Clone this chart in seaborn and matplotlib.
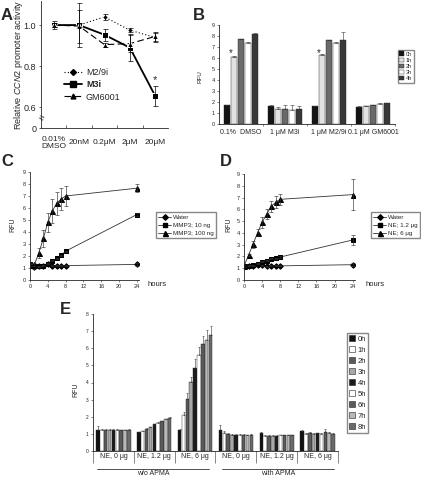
import numpy as np
import pandas as pd
import matplotlib
matplotlib.use("Agg")
import matplotlib.pyplot as plt
import matplotlib.transforms as mtransforms
from matplotlib.lines import Line2D
from matplotlib.patches import Patch
from matplotlib.container import BarContainer
import seaborn as sns

# ---------- data ----------
# A : promoter activity
dose_labels = ["0.01%\nDMSO", "20nM", "0.2\u03bcM", "2\u03bcM", "20\u03bcM"]
m29i = [1.0, 1.0, 1.04, 0.975, 0.94]
m29i_err = [0.01, 0.01, 0.015, 0.01, 0.02]
m3i = [1.0, 1.0, 0.953, 0.89, 0.655]
m3i_err = [0.02, 0.105, 0.03, 0.065, 0.05]
gm6001 = [1.0, 0.995, 0.905, 0.91, 0.945]
gm6001_err = [0.01, 0.08, 0.01, 0.04, 0.02]

# B : RFU per inhibitor
b_groups = ["0.1%  DMSO", "1 \u03bcM M3i", "1 \u03bcM M2/9i", "0.1 \u03bcM GM6001"]
b_times = ["0h", "1h", "2h", "3h", "4h"]
b_vals = [[1.7, 6.1, 7.7, 7.4, 8.2],
          [1.6, 1.4, 1.4, 1.3, 1.4],
          [1.6, 6.3, 7.6, 7.4, 7.65],
          [1.55, 1.65, 1.75, 1.85, 1.9]]
b_err = [[0.0, 0.05, 0.07, 0.05, 0.1],
         [0.15, 0.1, 0.3, 0.45, 0.25],
         [0.05, 0.05, 0.05, 0.05, 0.75],
         [0.05, 0.02, 0.02, 0.05, 0.05]]
b_colors = ["#141414", "#e2e2e2", "#6a6a6a", "#ffffff", "#383838"]

# C / D : time courses
hours = [0, 1, 2, 3, 4, 5, 6, 7, 8, 24]
c_water = [1.25, 1.1, 1.15, 1.2, 1.3, 1.2, 1.2, 1.2, 1.2, 1.3]
c_water_err = [0.15, 0.15, 0.1, 0.05, 0.05, 0.05, 0.05, 0.05, 0.05, 0.15]
c_mmp10 = [1.3, 1.2, 1.15, 1.2, 1.35, 1.6, 1.8, 2.05, 2.4, 5.45]
c_mmp10_err = [0.1, 0.1, 0.05, 0.05, 0.05, 0.05, 0.05, 0.05, 0.05, 0.1]
c_mmp100 = [1.25, 1.3, 2.27, 3.46, 4.8, 5.73, 6.4, 6.75, 7.0, 7.65]
c_mmp100_err = [0.1, 0.1, 0.4, 0.7, 0.8, 1.0, 0.95, 0.9, 0.8, 0.35]

d_water = [1.15, 1.2, 1.2, 1.25, 1.25, 1.15, 1.2, 1.2, 1.2, 1.3]
d_water_err = [0.05, 0.05, 0.05, 0.05, 0.05, 0.05, 0.05, 0.05, 0.05, 0.15]
d_ne12 = [1.15, 1.2, 1.25, 1.4, 1.55, 1.65, 1.8, 1.85, 1.95, 3.4]
d_ne12_err = [0.05, 0.05, 0.05, 0.05, 0.05, 0.05, 0.05, 0.05, 0.05, 0.4]
d_ne6 = [1.2, 2.1, 3.04, 4.03, 4.9, 5.6, 6.25, 6.6, 6.85, 7.25]
d_ne6_err = [0.1, 0.1, 0.3, 0.3, 0.45, 0.4, 0.5, 0.5, 0.45, 1.3]

# E : with / without APMA
e_groups = ["NE, 0 \u03bcg", "NE, 1.2 \u03bcg", "NE, 6 \u03bcg"] * 2
e_times = ["0h", "1h", "2h", "3h", "4h", "5h", "6h", "7h", "8h"]
e_vals = [[1.25, 1.2, 1.2, 1.25, 1.25, 1.2, 1.2, 1.2, 1.22],
          [1.1, 1.15, 1.3, 1.4, 1.55, 1.65, 1.75, 1.85, 1.95],
          [1.2, 2.1, 3.05, 4.05, 4.85, 5.6, 6.22, 6.5, 6.8],
          [1.25, 1.05, 1.0, 0.95, 0.95, 0.95, 0.95, 0.92, 0.95],
          [1.05, 0.9, 0.9, 0.9, 0.9, 0.92, 0.92, 0.92, 0.92],
          [1.15, 1.0, 1.05, 1.0, 1.03, 1.0, 1.1, 1.05, 1.02]]
e_err = [[0.2, 0.1, 0.08, 0.05, 0.05, 0.08, 0.05, 0.05, 0.05],
         [0.03, 0.03, 0.03, 0.03, 0.03, 0.03, 0.03, 0.03, 0.03],
         [0.1, 0.2, 0.35, 0.3, 0.5, 0.5, 0.5, 0.55, 0.5],
         [0.25, 0.1, 0.05, 0.03, 0.05, 0.03, 0.03, 0.03, 0.03],
         [0.05, 0.02, 0.02, 0.02, 0.02, 0.02, 0.02, 0.02, 0.02],
         [0.1, 0.05, 0.05, 0.03, 0.05, 0.03, 0.2, 0.05, 0.03]]
e_colors = ["#111111", "#ffffff", "#5a5a5a", "#a8a8a8", "#1c1c1c",
            "#ffffff", "#5a5a5a", "#b8b8b8", "#6a6a6a"]

# ---------- style ----------
sns.set_style("ticks")
plt.rcParams["font.family"] = ["Liberation Sans", "DejaVu Sans"]
plt.rcParams["mathtext.fontset"] = "custom"
plt.rcParams["mathtext.it"] = "Liberation Sans:italic"
plt.rcParams["mathtext.rm"] = "Liberation Sans"
plt.rcParams["axes.linewidth"] = 0.6

W, H = 421, 479
fig = plt.figure(figsize=(W / 100, H / 100), dpi=100)


def px_axes(left, top, right, bottom):
    return fig.add_axes([left / W, 1 - bottom / H, (right - left) / W, (bottom - top) / H])


def fig_text(x, y, s, **kw):
    fig.text(x / W, 1 - y / H, s, **kw)


def clean(ax):
    sns.despine(ax=ax)
    ax.set_xlabel("")
    ax.set_ylabel("")


def bar_errors(ax, err, cap):
    # one-sided (upward) error bars on top of the seaborn bars
    bars = [c for c in ax.containers if isinstance(c, BarContainer)]
    for i, cont in enumerate(bars):
        for j, bar in enumerate(cont):
            cx = bar.get_x() + bar.get_width() / 2
            ax.errorbar(cx, bar.get_height(), yerr=[[0], [err[j][i]]], fmt="none",
                        ecolor="#333333", elinewidth=0.4, capsize=cap, capthick=0.4)


# ============== A ==============
axA = px_axes(41, 1, 168, 128)
xpos = list(range(len(dose_labels)))
sns.lineplot(x=xpos, y=m29i, ax=axA, color="black", marker="D", markersize=3,
             linestyle=(0, (1, 2)), linewidth=0.8)
sns.lineplot(x=xpos, y=m3i, ax=axA, color="black", marker="s", markersize=4.5,
             linewidth=1.3)
sns.lineplot(x=xpos, y=gm6001, ax=axA, color="black", marker="^", markersize=4,
             linestyle=(0, (6, 3)), linewidth=0.8)
for y, e in [(m29i, m29i_err), (m3i, m3i_err), (gm6001, gm6001_err)]:
    axA.errorbar(xpos, y, yerr=e, fmt="none", ecolor="black", elinewidth=0.5,
                 capsize=1.8, capthick=0.5)
clean(axA)
axA.set_xlim(-0.5, 4.5)
axA.set_ylim(0.5, 1.117)
axA.set_yticks([0.5, 0.6, 0.8, 1.0])
axA.set_yticklabels(["0", "0.6", "0.8", "1.0"], fontsize=6.5)
axA.tick_params(axis="y", length=1.5, width=0.5, pad=2)
axA.set_xticks(xpos)
axA.set_xticklabels(dose_labels, fontsize=6, va="center", linespacing=1.0)
axA.tick_params(axis="x", which="major", length=0, pad=10.5)
axA.set_xticks([0.5, 1.5, 2.5, 3.5], minor=True)
axA.tick_params(axis="x", which="minor", direction="in", length=2, width=0.5)
axA.set_ylabel("Relative $\\it{CCN2}$ promoter activity", fontsize=6.5)
axA.yaxis.set_label_coords((25 - 41) / 127, 0.5)
axA.text(4, 0.735, "*", ha="center", va="center", fontsize=8)
trA = mtransforms.blended_transform_factory(axA.transAxes, axA.transData)
axA.text(0, 0.545, "\u2248", transform=trA, ha="center", va="center", fontsize=7,
         rotation=-20, clip_on=False)
legA = axA.legend(handles=[
    Line2D([], [], color="black", marker="D", markersize=3, linestyle=(0, (1, 2)), linewidth=0.8),
    Line2D([], [], color="black", marker="s", markersize=4, linewidth=1.3),
    Line2D([], [], color="black", marker="^", markersize=3.5, linestyle=(0, (6, 3)), linewidth=0.8)],
    labels=["M2/9i", "M3i", "GM6001"], loc="upper left",
    bbox_to_anchor=(58 / W, 1 - 62 / H), bbox_transform=fig.transFigure,
    frameon=False, fontsize=6.5, handlelength=2.0, handletextpad=0.4,
    labelspacing=0.35, borderpad=0.2)
legA.get_texts()[1].set_fontweight("bold")
fig_text(7, 16, "A", fontsize=12, fontweight="bold", ha="center", va="center")

# ============== B ==============
axB = px_axes(219, 25, 395, 124)
dfB = pd.DataFrame({
    "group": np.repeat(b_groups, len(b_times)),
    "time": b_times * len(b_groups),
    "rfu": np.ravel(b_vals),
})
sns.barplot(data=dfB, x="group", y="rfu", hue="time", order=b_groups, hue_order=b_times,
            palette=b_colors, errorbar=None, width=0.8, gap=0.12, saturation=1,
            edgecolor="#222222", linewidth=0.3, legend=False, ax=axB)
bar_errors(axB, b_err, 1.2)
clean(axB)
axB.set_xlim(-0.5, 3.5)
axB.set_ylim(0, 9)
axB.set_yticks(range(10))
axB.tick_params(axis="y", labelsize=4, length=1.5, width=0.4, pad=1.5)
axB.set_xticks(range(4))
axB.set_xticklabels(b_groups, fontsize=5)
axB.tick_params(axis="x", which="major", length=0, pad=3.5)
axB.set_xticks([0.5, 1.5, 2.5, 3.5], minor=True)
axB.tick_params(axis="x", which="minor", length=1.5, width=0.4)
for gx in [0, 2]:
    axB.text(gx - 0.24, 6.45, "*", ha="center", va="center", fontsize=7)
axB.legend(handles=[Patch(facecolor=c, edgecolor="#222222", linewidth=0.3) for c in b_colors],
           labels=b_times, loc="upper left", bbox_to_anchor=(395 / W, 1 - 47 / H),
           bbox_transform=fig.transFigure, fontsize=4, handlelength=0.8, handleheight=0.8,
           handletextpad=0.3, labelspacing=0.2, borderpad=0.3, fancybox=False,
           edgecolor="#888888", framealpha=1)
fig_text(199, 16, "B", fontsize=12, fontweight="bold", ha="center", va="center")
fig_text(200, 77, "RFU", fontsize=4.5, rotation=90, ha="center", va="center")


# ============== C / D ==============
def time_panel(ax, series, labels, leg_xy):
    marks = [("D", 2.8), ("s", 2.6), ("^", 3.6)]
    handles = []
    for (y, e), (mk, ms) in zip(series, marks):
        sns.lineplot(x=hours, y=y, ax=ax, color="#333333", marker=mk, markersize=ms,
                     markerfacecolor="black", markeredgecolor="black", linewidth=0.6)
        ax.errorbar(hours, y, yerr=e, fmt="none", ecolor="#333333", elinewidth=0.45,
                    capsize=1.5, capthick=0.45)
        handles.append(Line2D([], [], color="#333333", marker=mk, markersize=ms,
                              markerfacecolor="black", markeredgecolor="black", linewidth=0.6))
    clean(ax)
    ax.set_xlim(0, 24.5)
    ax.set_ylim(0, 9)
    ax.set_xticks(range(0, 25, 4))
    ax.set_yticks(range(10))
    ax.tick_params(labelsize=4, length=1.5, width=0.4, pad=1.5)
    ax.legend(handles=handles, labels=labels, loc="upper left",
              bbox_to_anchor=(leg_xy[0] / W, 1 - leg_xy[1] / H), bbox_transform=fig.transFigure,
              fontsize=4.5, handlelength=2.0, handletextpad=0.3, labelspacing=0.45,
              borderpad=0.35, fancybox=False, edgecolor="#888888", framealpha=1)


axC = px_axes(30, 172, 139, 280)
time_panel(axC, [(c_water, c_water_err), (c_mmp10, c_mmp10_err), (c_mmp100, c_mmp100_err)],
           ["Water", "MMP3; 10 ng", "MMP3; 100 ng"], (153, 209))
fig_text(7, 161, "C", fontsize=12, fontweight="bold", ha="center", va="center")
fig_text(13, 225, "RFU", fontsize=5, rotation=90, ha="center", va="center")
fig_text(148, 284, "hours", fontsize=5.5, va="center")

axD = px_axes(244, 174, 355, 280)
time_panel(axD, [(d_water, d_water_err), (d_ne12, d_ne12_err), (d_ne6, d_ne6_err)],
           ["Water", "NE; 1.2 \u03bcg", "NE; 6 \u03bcg"], (368, 209))
fig_text(226, 162, "D", fontsize=12, fontweight="bold", ha="center", va="center")
fig_text(229, 225, "RFU", fontsize=5, rotation=90, ha="center", va="center")
fig_text(365, 284, "hours", fontsize=5.5, va="center")

# ============== E ==============
axE = px_axes(93, 314, 338, 451)
e_keys = ["g%d" % k for k in range(len(e_groups))]
dfE = pd.DataFrame({
    "group": np.repeat(e_keys, len(e_times)),
    "time": e_times * len(e_keys),
    "rfu": np.ravel(e_vals),
})
sns.barplot(data=dfE, x="group", y="rfu", hue="time", order=e_keys, hue_order=e_times,
            palette=e_colors, errorbar=None, width=0.85, gap=0.1, saturation=1,
            edgecolor="#222222", linewidth=0.3, legend=False, ax=axE)
bar_errors(axE, e_err, 1.0)
clean(axE)
axE.set_xlim(-0.5, 5.5)
axE.set_ylim(0, 8)
axE.set_yticks(range(9))
axE.tick_params(axis="y", labelsize=3.5, length=1.5, width=0.4, pad=1.5)
axE.set_xticks(range(6))
axE.set_xticklabels(e_groups, fontsize=5, va="center")
axE.tick_params(axis="x", which="major", length=0, pad=4.3)
axE.set_xticks(np.arange(-0.5, 6, 1.0), minor=True)
axE.tick_params(axis="x", which="minor", length=8.6, width=0.5, color="#555555")
trE = axE.get_xaxis_transform()
for x0, x1, lab in [(-0.4, 2.35, "w/o APMA"), (2.65, 5.4, "with APMA")]:
    axE.plot([x0, x1], [-0.13, -0.13], transform=trE, color="#333333", linewidth=0.6,
             clip_on=False)
    axE.text((x0 + x1) / 2, -0.163, lab, transform=trE, ha="center", va="center", fontsize=5)
axE.legend(handles=[Patch(facecolor=c, edgecolor="#222222", linewidth=0.4) for c in e_colors],
           labels=e_times, loc="upper left", bbox_to_anchor=(343 / W, 1 - 329 / H),
           bbox_transform=fig.transFigure, fontsize=5.5, handlelength=0.8, handleheight=0.8,
           handletextpad=0.3, labelspacing=0.45, borderpad=0.3, fancybox=False,
           edgecolor="#888888", framealpha=1)
fig_text(65, 310, "E", fontsize=12, fontweight="bold", ha="center", va="center")
fig_text(76, 390, "RFU", fontsize=5, rotation=90, ha="center", va="center")

fig.savefig("out.png", dpi=100)
